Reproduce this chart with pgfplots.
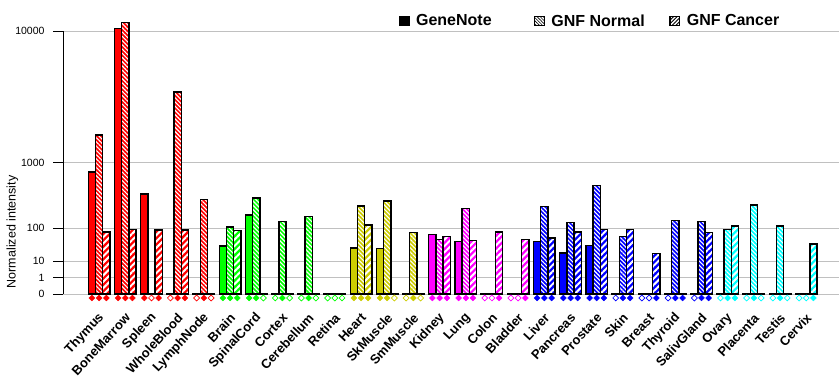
\documentclass[border=0pt]{standalone}
\usepackage{pgfplots}
\pgfplotsset{compat=1.18}
\usepackage{pgfplotstable}
\usetikzlibrary{patterns.meta}
\usepackage{fontspec}
\setmainfont{Liberation Sans}

\definecolor{cR}{RGB}{255,0,0}
\definecolor{cG}{RGB}{0,255,0}
\definecolor{cY}{RGB}{204,204,0}
\definecolor{cM}{RGB}{255,0,255}
\definecolor{cB}{RGB}{0,0,255}
\definecolor{cC}{RGB}{0,255,255}
\definecolor{gridgray}{RGB}{192,192,192}

% idx: category index; gn = GeneNote, nm = GNF Normal, ca = GNF Cancer
\pgfplotstableread{
idx gn nm ca
0 778 1884 83
1 10300 11150 93
2 401 0 91
3 0 4150 91
4 0 337 0
5 35 106 88
6 184 351 0
7 0 137 0
8 0 171 0
9 0 0 0
10 30.5 263 117
11 29 318 0
12 0 79 0
13 71 54 63
14 47 237 51
15 0 0 83
16 0 0 53
17 47 257 59
18 21 131 83
19 36 525 94
20 0 63 94
21 0 0 19.6
22 0 143 0
23 0 137 79
24 0 93 111
25 0 275 0
26 0 111 0
27 0 0 40
}\data

\pgfplotsset{
  barbase/.style={ybar, bar width=7.2pt, draw=black, line width=1.4pt, forget plot,
    y filter/.expression={max(y,1e-12)^0.30103}},
  gnbar/.style={barbase, bar shift=-7.2pt, fill=#1},
  nmbar/.style={barbase, bar shift=0pt, preaction={fill=#1},
    pattern={Lines[angle=-45,distance=3pt,line width=1.1pt]}, pattern color=white},
  cabar/.style={barbase, bar shift=7.2pt, preaction={fill=#1},
    pattern={Lines[angle=45,distance=4.5pt,line width=2pt]}, pattern color=white},
  dfill/.style={only marks, mark=square*, mark size=2.1pt,
    mark options={rotate=45, draw=#1, fill=#1, line width=0.4pt, solid}, forget plot},
  dopen/.style={only marks, mark=square, mark size=2.1pt,
    mark options={rotate=45, draw=#1, fill=white, line width=0.7pt, solid}, forget plot},
}

\begin{document}
\begin{tikzpicture}
\begin{axis}[
  scale only axis, width=776pt, height=263pt,
  xmin=-1.378, xmax=28.25, ymin=0, ymax=16,
  clip=false,
  axis lines*=left,
  x axis line style={draw=none},
  y axis line style={-, line width=0.8pt},
  xtick={0,...,27},
  xticklabels={Thymus,BoneMarrow,Spleen,WholeBlood,LymphNode,Brain,SpinalCord,Cortex,Cerebellum,Retina,Heart,SkMuscle,SmMuscle,Kidney,Lung,Colon,Bladder,Liver,Pancreas,Prostate,Skin,Breast,Thyroid,SalivGland,Ovary,Placenta,Testis,Cervix},
  xtick style={draw=none},
  xticklabel style={font=\bfseries\fontsize{13}{14}\selectfont, xshift=5pt, yshift=-9pt, rotate=47, anchor=east},
  ytick={0,1,2,4,8,16},
  yticklabels={0,1,10,100,1000,10000},
  yticklabel style={font=\fontsize{10.5}{12}\selectfont, xshift=-5pt},
  ymajorgrids, major grid style={gridgray, line width=1pt},
  tick align=outside, major tick length=10pt,
  ytick style={black, line width=0.8pt},
  ylabel={Normalized intensity},
  ylabel style={at={(axis description cs:-0.0651,0.236)}, anchor=center, font=\fontsize{12.5}{14}\selectfont},
  legend columns=3,
  legend style={draw=none, fill=none, at={(axis description cs:0.433,1.038)}, anchor=west,
    inner sep=0pt, font=\bfseries\fontsize{16}{18}\selectfont,
    nodes={inner sep=0pt},
    /tikz/every odd column/.append style={column sep=7pt}},
]
% red group
\addplot[gnbar=cR, restrict x to domain=0:4] table[x=idx,y=gn]{\data};
\addplot[nmbar=cR, restrict x to domain=0:4] table[x=idx,y=nm]{\data};
\addplot[cabar=cR, restrict x to domain=0:4] table[x=idx,y=ca]{\data};
% green group
\addplot[gnbar=cG, restrict x to domain=5:9] table[x=idx,y=gn]{\data};
\addplot[nmbar=cG, restrict x to domain=5:9] table[x=idx,y=nm]{\data};
\addplot[cabar=cG, restrict x to domain=5:9] table[x=idx,y=ca]{\data};
% olive group
\addplot[gnbar=cY, restrict x to domain=10:12] table[x=idx,y=gn]{\data};
\addplot[nmbar=cY, restrict x to domain=10:12] table[x=idx,y=nm]{\data};
\addplot[cabar=cY, restrict x to domain=10:12] table[x=idx,y=ca]{\data};
% magenta group
\addplot[gnbar=cM, restrict x to domain=13:16] table[x=idx,y=gn]{\data};
\addplot[nmbar=cM, restrict x to domain=13:16] table[x=idx,y=nm]{\data};
\addplot[cabar=cM, restrict x to domain=13:16] table[x=idx,y=ca]{\data};
% blue group
\addplot[gnbar=cB, restrict x to domain=17:23] table[x=idx,y=gn]{\data};
\addplot[nmbar=cB, restrict x to domain=17:23] table[x=idx,y=nm]{\data};
\addplot[cabar=cB, restrict x to domain=17:23] table[x=idx,y=ca]{\data};
% cyan group
\addplot[gnbar=cC, restrict x to domain=24:27] table[x=idx,y=gn]{\data};
\addplot[nmbar=cC, restrict x to domain=24:27] table[x=idx,y=nm]{\data};
\addplot[cabar=cC, restrict x to domain=24:27] table[x=idx,y=ca]{\data};

% presence diamonds
\addplot[dfill=cR] coordinates {(-0.275,-0.243)(0,-0.243)(0.275,-0.243)(0.725,-0.243)(1,-0.243)(1.275,-0.243)(1.725,-0.243)(2.275,-0.243)(3,-0.243)(3.275,-0.243)(4,-0.243)};
\addplot[dopen=cR] coordinates {(2,-0.243)(2.725,-0.243)(3.725,-0.243)(4.275,-0.243)};
\addplot[dfill=cG] coordinates {(4.725,-0.243)(5,-0.243)(5.275,-0.243)(5.725,-0.243)(6,-0.243)(7,-0.243)(8,-0.243)};
\addplot[dopen=cG] coordinates {(6.275,-0.243)(6.725,-0.243)(7.275,-0.243)(7.725,-0.243)(8.275,-0.243)(8.725,-0.243)(9,-0.243)(9.275,-0.243)};
\addplot[dfill=cY] coordinates {(9.725,-0.243)(10,-0.243)(10.275,-0.243)(10.725,-0.243)(11,-0.243)(12,-0.243)};
\addplot[dopen=cY] coordinates {(11.275,-0.243)(11.725,-0.243)(12.275,-0.243)};
\addplot[dfill=cM] coordinates {(12.725,-0.243)(13,-0.243)(13.275,-0.243)(13.725,-0.243)(14,-0.243)(14.275,-0.243)(15.275,-0.243)(16.275,-0.243)};
\addplot[dopen=cM] coordinates {(14.725,-0.243)(15,-0.243)(15.725,-0.243)(16,-0.243)};
\addplot[dfill=cB] coordinates {(16.725,-0.243)(17,-0.243)(17.275,-0.243)(17.725,-0.243)(18,-0.243)(18.275,-0.243)(18.725,-0.243)(19,-0.243)(19.275,-0.243)(20,-0.243)(20.275,-0.243)(21.275,-0.243)(22,-0.243)(22.275,-0.243)(23,-0.243)(23.275,-0.243)};
\addplot[dopen=cB] coordinates {(19.725,-0.243)(20.725,-0.243)(21,-0.243)(21.725,-0.243)(22.725,-0.243)};
\addplot[dfill=cC] coordinates {(24,-0.243)(24.275,-0.243)(25,-0.243)(26,-0.243)(27.275,-0.243)};
\addplot[dopen=cC] coordinates {(23.725,-0.243)(24.725,-0.243)(25.275,-0.243)(25.725,-0.243)(26.275,-0.243)(26.725,-0.243)(27,-0.243)};

\addlegendimage{legend image code/.code={\fill[black] (0pt,-4.5pt) rectangle (9.5pt,4.5pt);}}
\addlegendentry{\makebox[118pt][l]{GeneNote}}
\addlegendimage{legend image code/.code={\draw[black, line width=0.8pt, preaction={fill=white}, pattern={Lines[angle=-45,distance=2.2pt,line width=0.6pt]}, pattern color=black] (0pt,-4.5pt) rectangle (9.5pt,4.5pt);}}
\addlegendentry{\makebox[118pt][l]{GNF Normal}}
\addlegendimage{legend image code/.code={\draw[black, line width=0.8pt, preaction={fill=white}, pattern={Lines[angle=45,distance=2.6pt,line width=0.9pt]}, pattern color=black] (0pt,-4.5pt) rectangle (9.5pt,4.5pt);}}
\addlegendentry{GNF Cancer}

\path (axis description cs:-0.08119,-0.346) rectangle (axis description cs:1.00129,1.1179);
\end{axis}
\end{tikzpicture}
\end{document}
